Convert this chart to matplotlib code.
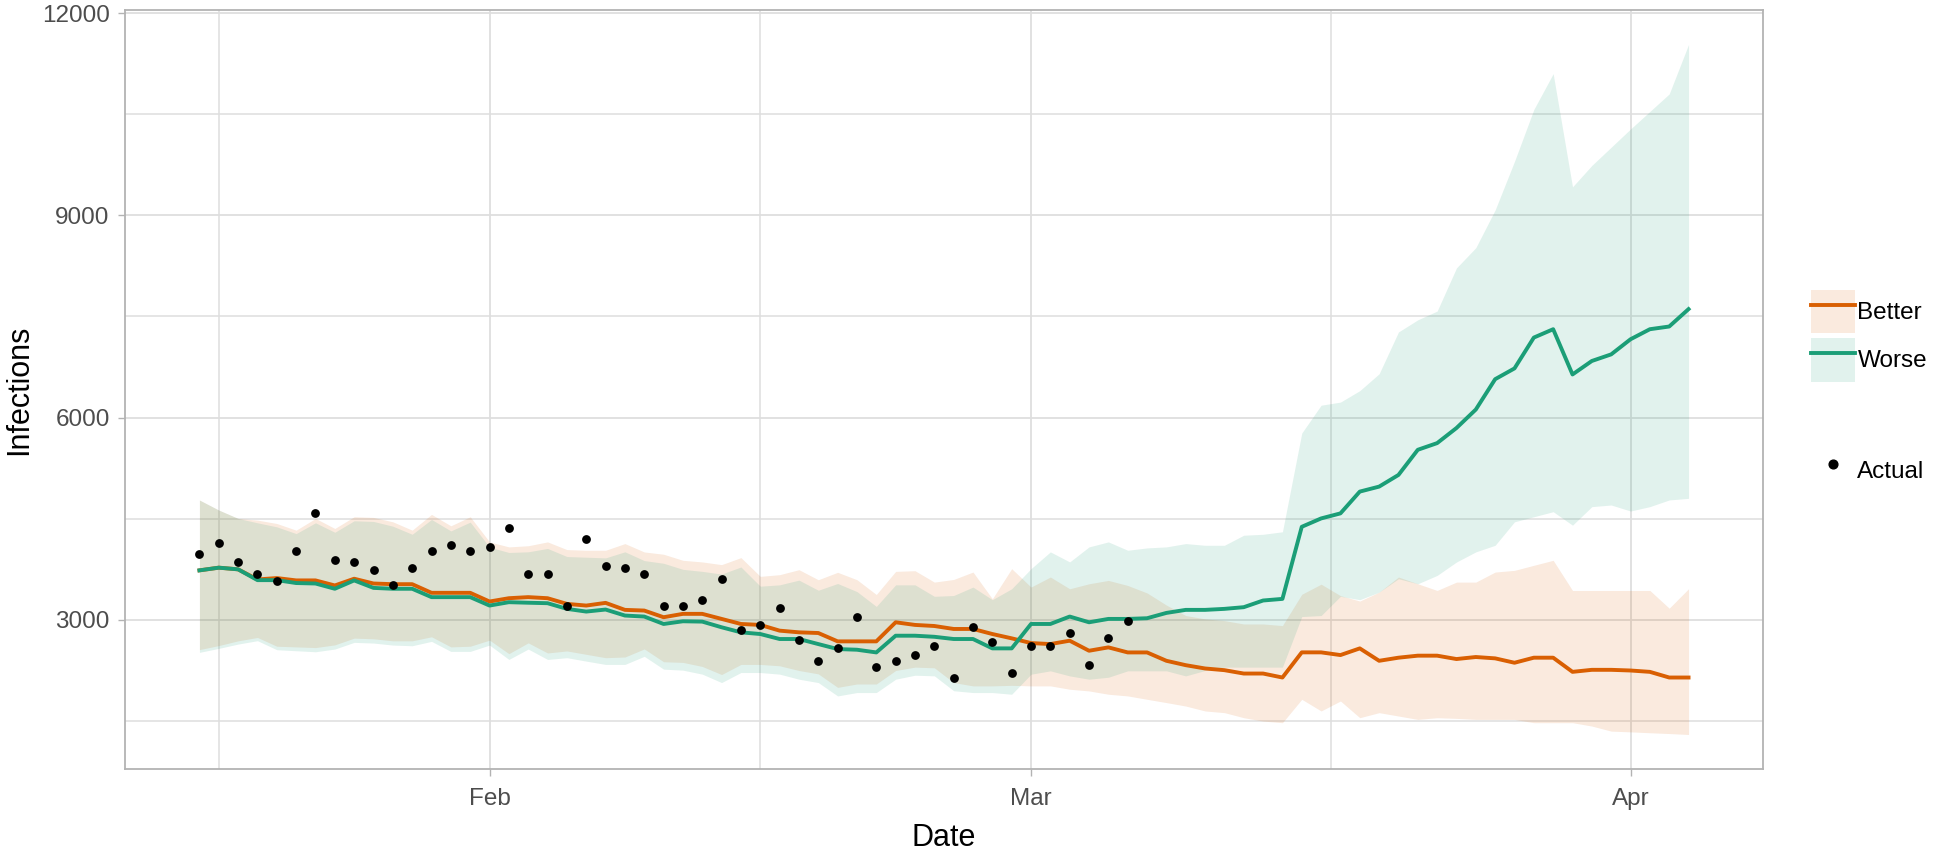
import numpy as np
import pandas as pd
import matplotlib
matplotlib.use('Agg')
import matplotlib.pyplot as plt
import matplotlib.dates as mdates
from matplotlib.patches import Patch
from matplotlib.lines import Line2D

plt.rcParams['font.family'] = ['Liberation Sans', 'DejaVu Sans']

### Data (daily, 17 Jan .. 4 Apr)
dates = pd.date_range('2021-01-17', '2021-04-04', freq='D')

better = [3735, 3775, 3750, 3600, 3621, 3586, 3586, 3511, 3611, 3540, 3530, 3530, 3402, 3402, 3402,
          3273, 3322, 3338, 3322, 3238, 3213, 3253, 3149, 3139, 3040,
          3090, 3090, 3015, 2940, 2926, 2841, 2816, 2806, 2682, 2682,
          2682, 2965, 2926, 2910, 2866, 2866, 2791, 2727, 2657, 2642,
          2692, 2543, 2593, 2518, 2518, 2394, 2329, 2280, 2255, 2205,
          2205, 2146, 2519, 2519, 2479, 2578, 2394, 2440, 2470, 2470,
          2420, 2450, 2430, 2365, 2440, 2440, 2230, 2260, 2260, 2250,
          2230, 2146, 2146]
better_lo = [2560, 2620, 2690, 2740, 2610, 2600, 2590, 2630, 2730, 2720, 2690, 2690, 2750, 2600, 2610,
             2700, 2500, 2660, 2510, 2540, 2490, 2440, 2450, 2570, 2380,
             2370, 2310, 2190, 2340, 2340, 2320, 2250, 2200, 2000, 2050,
             2050, 2250, 2300, 2290, 2071, 2022, 2022, 2030, 2022, 2022,
             1972, 1947, 1898, 1873, 1823, 1774, 1723, 1650, 1625, 1550,
             1500, 1476, 1823, 1650, 1798, 1550, 1625, 1575, 1525, 1550,
             1540, 1525, 1525, 1525, 1476, 1476, 1476, 1426, 1351, 1340,
             1327, 1315, 1301]
better_hi = [4778, 4629, 4505, 4480, 4430, 4331, 4505, 4356, 4530, 4520, 4455, 4331, 4565, 4396, 4530,
             4157, 4083, 4100, 4157, 4043, 4033, 4033, 4132, 4008, 3974,
             3884, 3860, 3820, 3924, 3646, 3671, 3745, 3596, 3706, 3596,
             3377, 3720, 3730, 3561, 3600, 3710, 3313, 3760, 3487, 3636,
             3462, 3536, 3586, 3511, 3400, 3220, 3065, 3015, 2990, 2940,
             2940, 2916, 3380, 3530, 3360, 3280, 3412, 3636, 3536, 3437,
             3561, 3561, 3710, 3735, 3810, 3884, 3437, 3437, 3437, 3437,
             3437, 3174, 3462]

worse = [3735, 3775, 3750, 3590, 3590, 3547, 3540, 3462, 3586, 3475, 3462, 3462, 3338, 3338, 3338,
         3213, 3263, 3255, 3248, 3164, 3124, 3154, 3065, 3050, 2940,
         2980, 2975, 2891, 2816, 2791, 2717, 2717, 2642, 2568, 2558,
         2518, 2766, 2766, 2750, 2717, 2717, 2578, 2578, 2940, 2940,
         3050, 2965, 3015, 3015, 3025, 3104, 3149, 3149, 3164, 3189,
         3288, 3312, 4381, 4505, 4580, 4903, 4977, 5150, 5523, 5622,
         5846, 6120, 6570, 6730, 7187, 7311, 6640, 6840, 6938, 7162,
         7311, 7351, 7609]
worse_lo = [2519, 2578, 2642, 2692, 2558, 2543, 2528, 2568, 2667, 2657, 2627, 2617, 2682, 2533, 2533,
            2627, 2414, 2568, 2414, 2440, 2389, 2340, 2340, 2460, 2270,
            2255, 2196, 2071, 2220, 2220, 2196, 2121, 2071, 1873, 1923,
            1923, 2121, 2180, 2171, 1950, 1923, 1923, 1898, 2195, 2245,
            2170, 2121, 2150, 2245, 2245, 2245, 2170, 2250, 2300, 2300,
            2300, 2300, 3050, 3065, 3350, 3300, 3412, 3611, 3536, 3660,
            3859, 4009, 4107, 4455, 4530, 4605, 4405, 4680, 4704, 4615,
            4680, 4779, 4803]
worse_hi = [4778, 4629, 4505, 4440, 4380, 4280, 4440, 4300, 4470, 4460, 4390, 4270, 4490, 4320, 4450,
            4080, 4000, 4010, 4060, 3940, 3930, 3920, 4010, 3880, 3840,
            3750, 3720, 3680, 3785, 3500, 3520, 3590, 3440, 3540, 3420,
            3200, 3520, 3520, 3350, 3362, 3487, 3300, 3462, 3760, 4009,
            3860, 4083, 4157, 4033, 4068, 4083, 4132, 4107, 4107, 4256,
            4270, 4307, 5771, 6184, 6230, 6400, 6650, 7270, 7450, 7580,
            8220, 8520, 9080, 9800, 10570, 11100, 9422, 9740, 10010, 10280,
            10540, 10800, 11533]

actual_dates = pd.date_range('2021-01-17', '2021-03-06', freq='D')
actual = [3983, 4143, 3860, 3675, 3577, 4018, 4579, 3894, 3860, 3735,
          3522, 3770, 4018, 4107, 4018, 4083, 4366, 3675, 3675, 3213,
          4207, 3800, 3770, 3675, 3204, 3204, 3298, 3611, 2856, 2926,
          3174, 2702, 2394, 2578, 3050, 2295, 2394, 2483, 2608, 2146,
          2891, 2677, 2206, 2608, 2608, 2801, 2330, 2732, 2980]

col_better = '#D95F02'
col_worse = '#1B9E77'
fill_alpha = 0.13
grid_col = '#DEDEDE'
border_col = '#B3B3B3'
text_col = '#4D4D4D'
small_fs = 17.5
title_fs = 22

### Figure
fig = plt.figure(figsize=(19.36, 8.52), dpi=100)
ax = fig.add_axes([125/1936, 1 - 769/852, (1763 - 125)/1936, (769 - 10)/852])

ax.fill_between(dates, better_lo, better_hi, color=col_better, alpha=fill_alpha, lw=0)
ax.fill_between(dates, worse_lo, worse_hi, color=col_worse, alpha=fill_alpha, lw=0)
ax.plot(dates, better, color=col_better, lw=2.8)
ax.plot(dates, worse, color=col_worse, lw=2.8)
ax.scatter(actual_dates, actual, s=40, color='black', zorder=5, lw=0)

# ggplot-like 5 % expansion
x0, x1 = mdates.date2num(dates[0]), mdates.date2num(dates[-1])
ax.set_xlim(x0 - 0.05*(x1 - x0), x1 + 0.05*(x1 - x0))
y_min = min(better_lo + worse_lo)
y_max = max(better_hi + worse_hi)
ax.set_ylim(y_min - 0.05*(y_max - y_min), y_max + 0.05*(y_max - y_min))

major_x = pd.to_datetime(['2021-02-01', '2021-03-01', '2021-04-01'])
minor_x = pd.to_datetime(['2021-01-18 00:00', '2021-02-15 00:00', '2021-03-16 12:00'])
ax.set_xticks(major_x)
ax.set_xticklabels(['Feb', 'Mar', 'Apr'])
ax.set_xticks(minor_x, minor=True)
ax.set_yticks([3000, 6000, 9000, 12000])
ax.set_yticks([1500, 4500, 7500, 10500], minor=True)

ax.grid(True, which='major', color=grid_col, lw=1.3)
ax.grid(True, which='minor', color=grid_col, lw=1.1)
ax.set_axisbelow(True)
for s in ax.spines.values():
    s.set_color(border_col)
    s.set_linewidth(1.3)
ax.tick_params(which='major', length=5, width=1, color=border_col,
               labelsize=small_fs, labelcolor=text_col)
ax.tick_params(axis='x', which='major', pad=8.5)
ax.tick_params(axis='y', which='major', pad=6)
ax.tick_params(which='minor', length=0)

ax.set_xlabel('Date', fontsize=title_fs, va='center')
ax.xaxis.set_label_coords(0.5, (769 - 838)/759)
ax.set_ylabel('Infections', fontsize=title_fs, va='center')
ax.yaxis.set_label_coords((19 - 125)/1638, 0.5)

### Legends
h_better = (Patch(facecolor=col_better, alpha=fill_alpha, lw=0), Line2D([], [], color=col_better, lw=2.8))
h_worse = (Patch(facecolor=col_worse, alpha=fill_alpha, lw=0), Line2D([], [], color=col_worse, lw=2.8))
leg_kw = dict(frameon=False, borderpad=0, borderaxespad=0, fontsize=small_fs,
              handlelength=1.81, handleheight=2.35, handletextpad=0.1, labelspacing=0.22)
fig.legend([h_better, h_worse], ['Better', 'Worse'], loc='upper left',
           bbox_to_anchor=(1811/1936, 1 - 290/852), **leg_kw)
h_actual = Line2D([], [], color='black', marker='o', markersize=6.3, lw=0)
fig.legend([h_actual], ['Actual'], loc='upper left',
           bbox_to_anchor=(1811/1936, 1 - 449/852), **leg_kw)

fig.savefig('out.png', dpi=100)
